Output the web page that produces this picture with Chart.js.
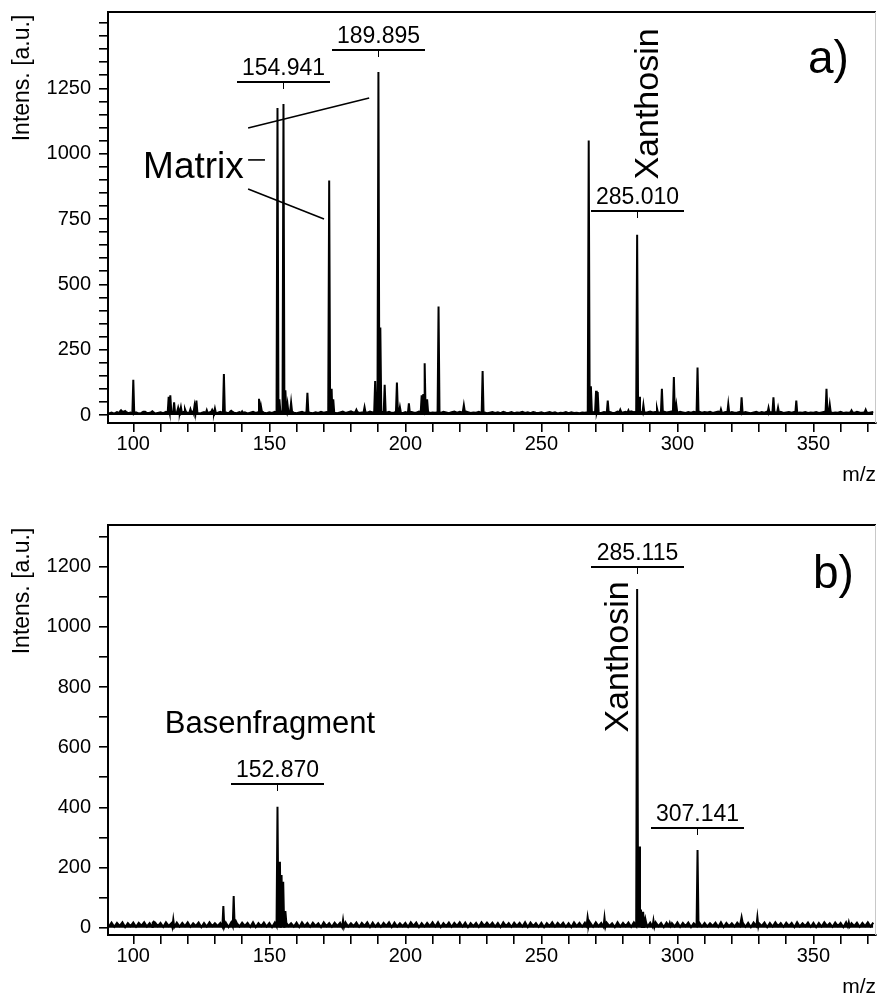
<!DOCTYPE html>
<html><head><meta charset="utf-8">
<script src="https://cdn.jsdelivr.net/npm/chart.js@4.4.1/dist/chart.umd.min.js"></script>
<style>html,body{margin:0;padding:0;background:#fff;overflow:hidden}canvas{display:block}</style>
</head><body>
<canvas id="ca" width="877" height="490" style="width:877px;height:490px"></canvas>
<canvas id="cb" width="877" height="506" style="width:877px;height:506px"></canvas>
<script>
const FONT = "'Liberation Sans', Arial, Helvetica, sans-serif";

// ---------- axis ranges ----------
const xRange = [90.7, 373.0];
const yRangeA = [-30.6, 1542];
const yRangeB = [-24.3, 1338.8];
const yLabelMaxA = 1250;
const yLabelMaxB = 1200;

// ---------- panel a) baseline noise (m/z 91 ... 372, step 1) ----------
const noiseStartA = 91;
const noiseA = [
  6,9,5,11,8,14,12,7,9,5,10,6,8,12,7,9,11,6,8,10,
  7,12,9,14,8,11,13,9,12,7,10,14,9,6,8,11,7,10,13,8,
  9,12,8,10,6,13,9,7,11,8,10,6,9,12,8,11,14,9,7,10,
  8,12,9,14,11,10,8,13,9,7,10,12,8,11,9,7,10,8,12,9,
  11,8,12,9,7,10,13,8,11,14,9,12,8,10,11,9,13,10,12,9,
  11,13,9,12,8,10,13,9,7,11,8,12,10,9,13,11,9,12,8,10,
  9,11,8,12,10,7,11,13,9,12,10,14,11,8,10,9,12,8,10,7,
  9,11,8,10,7,12,9,8,11,7,10,9,12,8,10,7,11,9,8,10,
  7,9,11,8,10,6,9,8,11,7,10,8,9,7,10,9,11,12,10,13,
  9,8,11,10,12,9,8,13,11,10,12,9,14,11,13,10,12,9,11,13,
  10,12,9,11,13,10,12,14,11,9,12,10,8,11,9,12,10,13,9,11,
  10,12,8,11,13,9,10,12,8,11,9,10,12,8,11,9,7,10,12,8,
  11,9,13,10,12,11,9,12,8,10,11,9,12,8,10,9,11,8,10,9,
  11,8,10,12,9,11,8,10,9,12,8,10,9,11,8,12,10,9,11,8,
  10,12
];
// ---------- panel a) peaks ----------
const peakMzA = [95.5, 97, 100, 104, 107, 113, 113.6, 115, 116.5, 117.5, 119, 121, 122.5, 123.2, 127, 129, 130, 133.3, 136, 140,
  146.2, 146.9, 153, 153.7, 155.2, 155.9, 156.7, 158, 164, 172, 172.9, 173.5, 182, 185, 188.9, 190.1, 190.8, 192.4, 196.9, 198,
  201.3, 206, 206.6, 207.1, 208, 212.2, 221.5, 228.4, 267.4, 268.2, 270.1, 270.7, 274.4, 279, 282, 285.2, 285.9, 287.5, 292.5, 294.3,
  298.7, 299.6, 307.4, 316, 318.7, 323.6, 333.5, 335.3, 337, 343.7, 354.8, 356, 364, 369.2];
const peakIntA = [18, 15, 135, 12, 14, 70, 75, 48, 28, 30, 22, 22, 35, 55, 18, 20, 25, 157, 16, 14,
  62, 35, 1175, 60, 1190, 95, 40, 48, 85, 897, 100, 60, 20, 30, 130, 1312, 335, 116, 124, 30,
  45, 75, 80, 198, 60, 415, 38, 168, 1050, 110, 93, 88, 55, 20, 18, 690, 70, 38, 25, 100,
  145, 38, 182, 22, 42, 68, 28, 68, 28, 55, 100, 40, 18, 20];

// ---------- panel b) baseline noise (m/z 91 ... 372, step 1) ----------
const noiseStartB = 91;
const noiseB = [
  4,17,3,16,6,18,2,15,5,17,3,16,7,18,4,15,2,17,5,16,
  3,18,6,15,2,17,4,16,5,18,3,15,6,17,2,16,4,18,5,15,
  6,16,3,17,2,18,5,15,4,17,6,16,3,18,2,15,5,17,4,16,
  2,17,5,18,3,16,6,15,4,17,2,18,5,16,3,17,6,15,2,18,
  5,15,3,17,6,16,2,18,4,15,5,17,3,16,6,18,2,17,4,15,
  3,16,6,18,2,17,4,15,5,16,3,18,6,17,2,15,4,16,5,18,
  4,18,2,15,5,17,3,16,6,18,4,17,2,15,5,16,3,18,6,17,
  6,17,4,16,2,18,5,15,3,17,6,16,4,18,2,17,5,15,3,16,
  2,15,5,18,4,16,6,17,3,15,2,18,5,16,4,17,6,15,3,18,
  5,16,3,17,6,15,2,18,4,16,5,17,3,18,6,16,2,15,4,17,
  3,18,5,16,2,17,6,15,4,18,3,16,5,17,2,15,6,18,4,16,
  4,15,6,17,3,18,2,16,5,15,4,17,6,18,3,16,2,17,5,15,
  6,17,2,16,4,18,5,15,3,17,6,16,2,18,4,15,5,17,3,16,
  2,16,4,18,6,15,3,17,5,16,2,18,4,15,6,17,3,16,5,18,
  4,17
];
// ---------- panel b) peaks ----------
const peakMzB = [107.5, 114.7, 133.1, 136.9, 137.7, 153, 153.9, 154.5, 155.1, 155.9, 177.1, 267, 267.7, 273.2, 285.2,
  285.9, 286.6, 287.4, 288.2, 291.2, 297.2, 307.4, 323.6, 329.4, 363];
const peakIntB = [20, 27, 72, 105, 22, 402, 219, 175, 153, 55, 25, 35, 20, 33, 1126,
  270, 60, 53, 30, 24, 16, 258, 35, 35, 18];

// ---------- annotations ----------
const peakLabelsA = ['154.941', '189.895', '285.010'];
const peakLabelLevelA = [1275, 1397, 781];
const peakLabelsB = ['152.870', '285.115', '307.141'];
const peakLabelLevelB = [477, 1199, 331];

const textsA = [
  {t: 'Matrix', x: 103.6, y: 907, size: 37},
  {t: 'Xanthosin', x: 289.5, y: 1190, size: 34, rot: true},
  {t: 'a)', x: 348.0, y: 1309, size: 46}
];
const textsB = [
  {t: 'Basenfragment', x: 111.6, y: 647, size: 31},
  {t: 'Xanthosin', x: 278.3, y: 900, size: 34, rot: true},
  {t: 'b)', x: 349.8, y: 1129, size: 46}
];
const linesA = [
  [142.2, 1098, 186.7, 1213],
  [142.2, 865, 170.1, 750],
  [142.2, 976, 148.4, 976]
];
const linesB = [];

// ---------- build spectrum points ----------
function buildSpectrum(start, noise, mz, inten) {
  const pts = [];
  noise.forEach((v, i) => {
    const x = start + i;
    if (!mz.some(m => Math.abs(m - x) < 0.5)) pts.push({x: x, y: v});
  });
  mz.forEach((m, i) => {
    const k = Math.min(noise.length - 1, Math.max(0, Math.round(m - start)));
    const base = noise[k];
    pts.push({x: m - 0.35, y: base}, {x: m, y: inten[i]}, {x: m + 0.35, y: base});
  });
  return pts.sort((a, b) => a.x - b.x);
}

function makeScales(yR, yStep, yLabStep, yLabMax, xH) {
  const tickFont = {family: FONT, size: 20};
  return {
    x: {
      type: 'linear', min: xRange[0], max: xRange[1],
      border: {display: true, color: '#000', width: 2},
      grid: {drawOnChartArea: false, drawTicks: true, tickLength: 9, color: '#000', lineWidth: 1.6},
      ticks: {stepSize: 10, includeBounds: false, autoSkip: false, maxRotation: 0, minRotation: 0,
        padding: 0, color: '#000', font: tickFont,
        callback: v => (Math.round(v) % 50 === 0 ? String(Math.round(v)) : '')},
      afterFit: s => { s.height = xH; s.paddingLeft = 0; s.paddingRight = 0; }
    },
    y: {
      type: 'linear', min: yR[0], max: yR[1],
      border: {display: true, color: '#000', width: 2},
      grid: {drawOnChartArea: false, drawTicks: true, tickLength: 9, color: '#000', lineWidth: 1.6},
      ticks: {stepSize: yStep, includeBounds: false, autoSkip: false, padding: 8, color: '#000', font: tickFont,
        callback: v => (Math.round(v) % yLabStep === 0 && v <= yLabMax ? String(Math.round(v)) : '')},
      afterFit: s => { s.width = 108; s.paddingTop = 0; s.paddingBottom = 0; }
    }
  };
}

function annotPlugin(id, labels, levels, texts, lines) {
  return {
    id: 'annot' + id,
    afterDraw(chart) {
      const {ctx, chartArea: ca, scales} = chart;
      const X = v => scales.x.getPixelForValue(v);
      const Y = v => scales.y.getPixelForValue(v);
      ctx.save();
      // frame top & right
      ctx.strokeStyle = '#000'; ctx.lineWidth = 2;
      ctx.beginPath(); ctx.moveTo(ca.left - 1, ca.top); ctx.lineTo(ca.right, ca.top); ctx.stroke();
      ctx.strokeStyle = '#c8c8c8'; ctx.lineWidth = 1;
      ctx.beginPath(); ctx.moveTo(ca.right - 0.5, ca.top); ctx.lineTo(ca.right - 0.5, ca.bottom); ctx.stroke();
      ctx.fillStyle = '#000'; ctx.strokeStyle = '#000';
      // peak labels
      labels.forEach((t, i) => {
        const px = Math.round(X(parseFloat(t))) + 0.5;
        const py = Math.round(Y(levels[i]));
        ctx.lineWidth = 2;
        ctx.beginPath(); ctx.moveTo(px - 46.5, py); ctx.lineTo(px + 46.5, py); ctx.stroke();
        ctx.lineWidth = 1;
        ctx.beginPath(); ctx.moveTo(px, py); ctx.lineTo(px, py + 7); ctx.stroke();
        ctx.font = '23px ' + FONT; ctx.textAlign = 'center'; ctx.textBaseline = 'alphabetic';
        ctx.fillText(t, px, py - 7);
      });
      // lines
      ctx.lineWidth = 1.6;
      lines.forEach(l => {
        ctx.beginPath(); ctx.moveTo(X(l[0]), Y(l[1])); ctx.lineTo(X(l[2]), Y(l[3])); ctx.stroke();
      });
      // texts
      texts.forEach(o => {
        ctx.font = o.size + 'px ' + FONT;
        if (o.rot) {
          ctx.save(); ctx.translate(X(o.x), Y(o.y)); ctx.rotate(-Math.PI / 2);
          ctx.textAlign = 'center'; ctx.textBaseline = 'middle';
          ctx.fillText(o.t, 0, 0); ctx.restore();
        } else {
          ctx.textAlign = 'left'; ctx.textBaseline = 'alphabetic';
          ctx.fillText(o.t, X(o.x), Y(o.y));
        }
      });
      // axis titles
      ctx.font = '23px ' + FONT;
      ctx.save(); ctx.translate(23, ca.top + 66); ctx.rotate(-Math.PI / 2);
      ctx.textAlign = 'center'; ctx.textBaseline = 'middle';
      ctx.fillText('Intens. [a.u.]', 0, 0); ctx.restore();
      ctx.font = '21px ' + FONT; ctx.textAlign = 'right'; ctx.textBaseline = 'alphabetic';
      ctx.fillText('m/z', 876, ca.bottom + 58);
      ctx.restore();
    }
  };
}

function makeChart(el, pts, yR, yStep, yLabStep, yLabMax, xH, padTop, plugin) {
  return new Chart(document.getElementById(el), {
    type: 'line',
    data: {datasets: [{data: pts, borderColor: '#000', borderWidth: 2, pointRadius: 0,
      fill: 'origin', backgroundColor: '#000', tension: 0}]},
    options: {
      responsive: false, animation: false, devicePixelRatio: 1,
      layout: {padding: {top: padTop, right: 1, bottom: 0, left: 0}},
      plugins: {legend: {display: false}, tooltip: {enabled: false}},
      scales: makeScales(yR, yStep, yLabStep, yLabMax, xH)
    },
    plugins: [plugin]
  });
}

makeChart('ca', buildSpectrum(noiseStartA, noiseA, peakMzA, peakIntA), yRangeA, 50, 250, yLabelMaxA, 67, 12,
  annotPlugin('A', peakLabelsA, peakLabelLevelA, textsA, linesA));
makeChart('cb', buildSpectrum(noiseStartB, noiseB, peakMzB, peakIntB), yRangeB, 100, 200, yLabelMaxB, 61, 35,
  annotPlugin('B', peakLabelsB, peakLabelLevelB, textsB, linesB));
</script>
</body></html>
